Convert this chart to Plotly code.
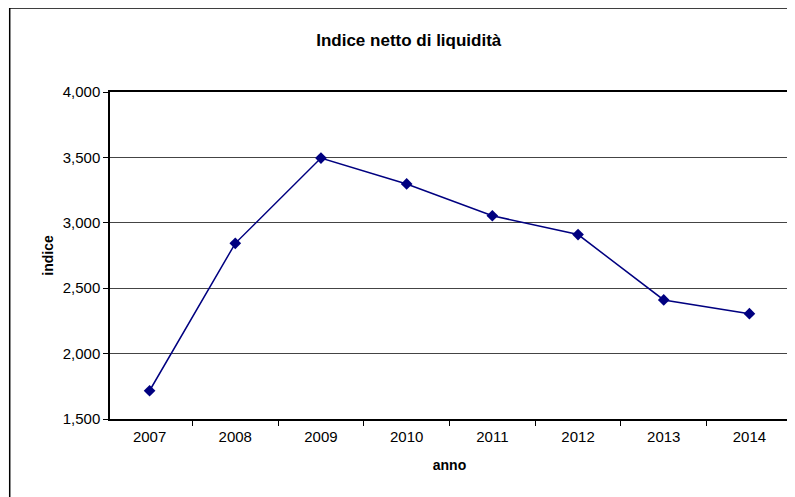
import plotly.graph_objects as go

anni = ["2007", "2008", "2009", "2010", "2011", "2012", "2013", "2014"]
indice = [1716, 2843, 3495, 3297, 3054, 2910, 2410, 2305]
y_ticks = [1500, 2000, 2500, 3000, 3500, 4000]

font_family = "Liberation Sans, Arial, sans-serif"

fig = go.Figure()

fig.add_trace(go.Scatter(
    x=anni,
    y=indice,
    mode="lines+markers",
    line=dict(color="#000080", width=1.5),
    marker=dict(symbol="diamond", size=9, color="#000080"),
    showlegend=False
))

# outer chart border (Excel style, clipped on right/bottom)
fig.add_shape(
    type="rect", xref="paper", yref="paper",
    x0=-0.1477, y0=-0.35, x1=1.05, y1=1.2569,
    line=dict(color="black", width=1.5), fillcolor="rgba(0,0,0,0)",
    layer="below"
)

fig.update_layout(
    width=787,
    height=489,
    margin=dict(l=102, r=4, t=84, b=78),
    paper_bgcolor="white",
    plot_bgcolor="white",
    font=dict(family=font_family, size=15, color="black"),
    title=dict(
        text="<b>Indice netto di liquidità</b>",
        x=0.44, xref="paper", xanchor="center",
        y=0.935, yanchor="middle",
        font=dict(size=17)
    ),
    xaxis=dict(
        type="category",
        title=dict(text="<b>anno</b>", standoff=16, font=dict(size=14)),
        showline=True, linecolor="black", linewidth=1.5, mirror=True,
        ticks="outside", ticklen=5, tickcolor="black",
        tickson="boundaries", ticklabelstandoff=3,
        showgrid=False
    ),
    yaxis=dict(
        range=[1500, 4000],
        tickvals=y_ticks,
        tickformat=",",
        title=dict(text="<b>indice</b>", standoff=6, font=dict(size=14)),
        showline=True, linecolor="black", linewidth=1.5, mirror=True,
        ticks="outside", ticklen=5, tickcolor="black",
        showgrid=True, gridcolor="#444444", gridwidth=1,
        zeroline=False
    )
)

fig.write_html("out.html")
